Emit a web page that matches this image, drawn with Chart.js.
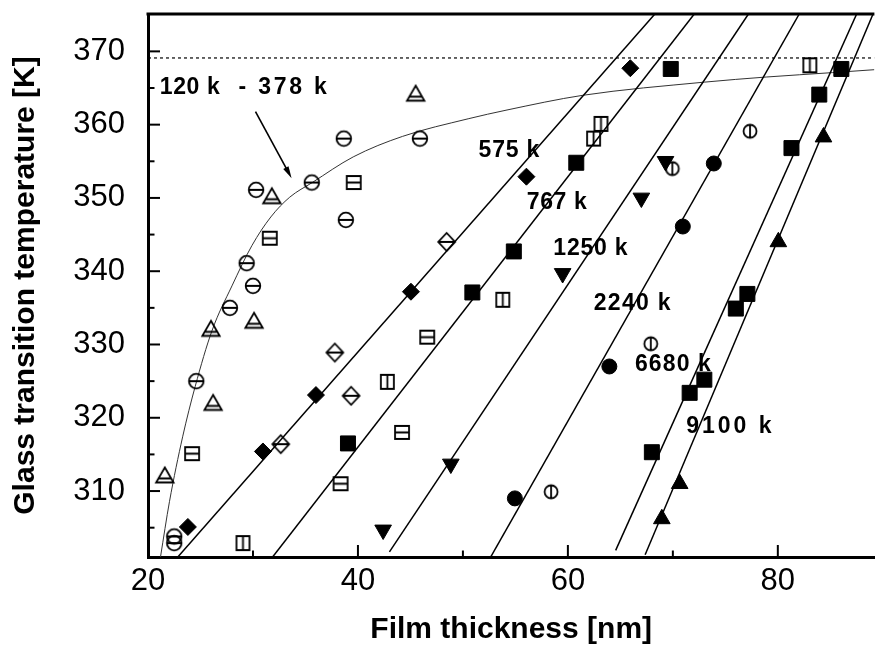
<!DOCTYPE html>
<html>
<head>
<meta charset="utf-8">
<script src="https://cdn.jsdelivr.net/npm/chart.js@4.4.0/dist/chart.umd.min.js"></script>
<style>
  html, body { margin: 0; padding: 0; background: #fff; }
  #wrap { width: 886px; height: 645px; }
</style>
</head>
<body>
<div id="wrap"><canvas id="c" width="886" height="645"></canvas></div>
<script>
// ---------------- data ----------------
// [film thickness nm, Tg K]
const hollowCircleH  = [[22.5,303.8],[22.5,302.9],[24.6,325.0],[27.8,335.0],[30.0,338.0],[29.4,341.1],[30.3,351.1],[35.6,352.1],[38.65,358.1],[38.85,347.0],[45.9,358.1]];
const hollowTriangle = [[21.6,312.2],[26.2,322.1],[26.0,332.2],[30.1,333.3],[31.8,350.3],[45.5,364.3]];
const hollowSquareH  = [[24.2,315.1],[31.6,344.5],[39.6,352.1],[38.35,311.0],[44.2,318.0],[46.6,331.0]];
const hollowSquareV  = [[29.05,302.9],[42.8,324.9],[53.8,336.1],[62.45,358.1],[63.15,360.1],[83.05,368.1]];
const hollowDiamondH = [[32.65,316.4],[37.8,328.9],[39.35,323.0],[48.45,344.0]];
const hollowCircleV  = [[58.4,309.9],[67.9,330.1],[69.95,354.0],[77.35,359.1]];
const filled575k  = [[23.8,305.1],[30.95,315.4],[36.0,323.1],[45.05,337.2],[56.05,352.9],[65.95,367.7]];
const filled767k  = [[39.05,316.5],[50.9,337.1],[54.85,342.7],[60.8,354.8],[69.8,367.6]];
const filled1250k = [[42.4,304.7],[48.85,313.7],[59.5,339.7],[67.0,350.0],[69.3,355.0]];
const filled2240k = [[54.95,309.0],[63.95,327.0],[70.95,346.1],[73.9,354.7]];
const filled6680k = [[68.0,315.3],[71.6,323.4],[73.0,325.2],[76.0,334.9],[77.1,336.9],[81.3,356.8],[83.95,364.1],[86.05,367.6]];
const filled9100k = [[68.95,306.2],[70.65,311.0],[80.05,344.0],[84.35,358.3]];

// straight lines (end points)
const fit575k  = [[22.84,301.0],[68.29,375.1]];
const fit767k  = [[31.87,301.0],[72.04,375.1]];
const fit1250k = [[43.0,301.7],[77.2,375.1]];
const fit2240k = [[52.68,301.1],[82.04,375.1]];
const fit6680k = [[64.55,301.9],[87.51,375.1]];
const fit9100k = [[67.36,301.3],[89.07,375.1]];

// thin curve for 120 k - 378 k
const curve120to378k = [[21.19,301.0],[22.05,308.6],[23.3,317.4],[24.5,324.3],[26.1,331.9],[28.0,338.0],[29.9,343.5],[31.7,347.4],[33.5,350.1],[35.65,352.1],[39.55,355.6],[44.25,358.4],[50.5,360.8],[54.2,362.0],[61.4,364.0],[73.0,365.8],[78.9,366.5],[85.2,367.1],[89.2,367.5]];

// dotted bulk Tg level
const bulkTg = [[20,369.1],[89.2,369.1]];

// ticks
const xTickValues = [20, 40, 60, 80];
const xMinorValues = [30, 50, 70];
const yTickValues = [310, 320, 330, 340, 350, 360, 370];
const yMinorValues = [305, 315, 325, 335, 345, 355, 365];

// series labels
const seriesLabels = ['120 k', '- 378 k', '575 k', '767 k', '1250 k', '2240 k', '6680 k', '9100 k'];

// ---------------- presentation ----------------
const FONT = '"Liberation Sans", Arial, Helvetica, sans-serif';
Chart.defaults.color = '#000';
Chart.defaults.font.family = FONT;

const pts = a => a.map(p => ({x: p[0], y: p[1]}));

function marker(w, h, fn) {
  const c = document.createElement('canvas');
  c.width = w; c.height = h;
  const g = c.getContext('2d');
  g.strokeStyle = '#000'; g.lineWidth = 1.8;
  fn(g, w / 2, h / 2);
  return c;
}
const mCircH = marker(20, 20, (g, cx, cy) => {
  g.beginPath(); g.arc(cx, cy, 7.3, 0, Math.PI * 2);
  g.moveTo(cx - 7.3, cy); g.lineTo(cx + 7.3, cy); g.stroke();
});
const mCircV = marker(18, 18, (g, cx, cy) => {
  g.beginPath(); g.arc(cx, cy, 6.5, 0, Math.PI * 2);
  g.moveTo(cx, cy - 6.5); g.lineTo(cx, cy + 6.5); g.stroke();
});
const mTri = marker(22, 20, (g, cx, cy) => {
  g.beginPath();
  g.moveTo(cx, cy - 7.5); g.lineTo(cx + 8.7, cy + 7.5); g.lineTo(cx - 8.7, cy + 7.5); g.closePath();
  g.moveTo(cx - 6.4, cy + 3.5); g.lineTo(cx + 6.4, cy + 3.5); g.stroke();
});
const mSqH = marker(18, 17, (g, cx, cy) => {
  g.beginPath(); g.rect(cx - 7, cy - 6.5, 14, 13);
  g.moveTo(cx - 7, cy); g.lineTo(cx + 7, cy); g.stroke();
});
const mSqV = marker(17, 18, (g, cx, cy) => {
  g.beginPath(); g.rect(cx - 6.5, cy - 7, 13, 14);
  g.moveTo(cx, cy - 7); g.lineTo(cx, cy + 7); g.stroke();
});
const mDiaH = marker(21, 22, (g, cx, cy) => {
  g.beginPath();
  g.moveTo(cx, cy - 9); g.lineTo(cx + 8.4, cy); g.lineTo(cx, cy + 9); g.lineTo(cx - 8.4, cy); g.closePath();
  g.moveTo(cx - 8.4, cy); g.lineTo(cx + 8.4, cy); g.stroke();
});

function openSet(label, data, img) {
  return {label, data: pts(data), pointStyle: img, pointRadius: 8, showLine: false};
}
function filledSet(label, data, style, r, rot) {
  return {label, data: pts(data), pointStyle: style, pointRadius: r, pointRotation: rot || 0,
          pointBackgroundColor: '#000', pointBorderColor: '#000', pointBorderWidth: 1, showLine: false};
}
function lineSet(label, data, extra) {
  return Object.assign({label, data: pts(data), showLine: true, pointRadius: 0,
          borderColor: '#000', borderWidth: 1.5, fill: false}, extra || {});
}

const annotations = [
  {text: seriesLabels[0], x: 21.12, y: 365.07, sp: 0.6},
  {text: seriesLabels[1], x: 28.62, y: 365.07, sp: 2.8},
  {text: seriesLabels[2], x: 51.49, y: 356.4, sp: 0.8},
  {text: seriesLabels[3], x: 56.08, y: 349.4, sp: 0.6},
  {text: seriesLabels[4], x: 58.61, y: 343.04, sp: 0.8},
  {text: seriesLabels[5], x: 62.46, y: 335.6, sp: 1.3},
  {text: seriesLabels[6], x: 66.39, y: 327.2, sp: 1.1},
  {text: seriesLabels[7], x: 71.27, y: 318.8, sp: 3.0}
];
const arrowFrom = [30.24, 361.77];
const arrowTo = [33.68, 352.69];

const framePlugin = {
  id: 'frame',
  afterDatasetsDraw(chart) {
    const {ctx, chartArea: a, scales: {x, y}} = chart;
    ctx.save();
    ctx.strokeStyle = '#000';
    ctx.fillStyle = '#000';
    const seg = (x1, y1, x2, y2) => { ctx.beginPath(); ctx.moveTo(x1, y1); ctx.lineTo(x2, y2); ctx.stroke(); };
    ctx.lineWidth = 2;
    yTickValues.forEach(v => { const p = y.getPixelForValue(v); seg(a.left, p, a.left + 12, p); });
    yMinorValues.forEach(v => { const p = y.getPixelForValue(v); seg(a.left, p, a.left + 6.5, p); });
    xTickValues.forEach(v => { const p = x.getPixelForValue(v); seg(p, a.bottom, p, a.bottom - 12); });
    xMinorValues.forEach(v => { const p = x.getPixelForValue(v); seg(p, a.bottom, p, a.bottom - 6.5); });
    // top frame line
    ctx.lineWidth = 3;
    seg(a.left - 1.5, a.top, a.right, a.top);
    // labels
    ctx.font = 'bold 23px ' + FONT;
    ctx.textBaseline = 'middle';
    ctx.textAlign = 'left';
    annotations.forEach(t => {
      ctx.letterSpacing = t.sp + 'px';
      ctx.fillText(t.text, x.getPixelForValue(t.x), y.getPixelForValue(t.y));
    });
    ctx.letterSpacing = '0px';
    // arrow
    const x1 = x.getPixelForValue(arrowFrom[0]), y1 = y.getPixelForValue(arrowFrom[1]);
    const x2 = x.getPixelForValue(arrowTo[0]), y2 = y.getPixelForValue(arrowTo[1]);
    const ang = Math.atan2(y2 - y1, x2 - x1);
    ctx.lineWidth = 1.6;
    seg(x1, y1, x2 - 8 * Math.cos(ang), y2 - 8 * Math.sin(ang));
    ctx.beginPath();
    ctx.moveTo(x2, y2);
    ctx.lineTo(x2 - 12 * Math.cos(ang) + 3 * Math.sin(ang), y2 - 12 * Math.sin(ang) - 3 * Math.cos(ang));
    ctx.lineTo(x2 - 12 * Math.cos(ang) - 3 * Math.sin(ang), y2 - 12 * Math.sin(ang) + 3 * Math.cos(ang));
    ctx.closePath();
    ctx.fill();
    ctx.restore();
  }
};

new Chart(document.getElementById('c'), {
  type: 'scatter',
  data: {
    datasets: [
      openSet('120k-378k circles', hollowCircleH, mCircH),
      openSet('120k-378k triangles', hollowTriangle, mTri),
      openSet('120k-378k squares', hollowSquareH, mSqH),
      openSet('open squares', hollowSquareV, mSqV),
      openSet('open diamonds', hollowDiamondH, mDiaH),
      openSet('open circles', hollowCircleV, mCircV),
      filledSet('575 k', filled575k, 'rectRot', 8.5),
      filledSet('767 k', filled767k, 'rect', 10.6),
      filledSet('1250 k', filled1250k, 'triangle', 9.6, 180),
      filledSet('2240 k', filled2240k, 'circle', 7.5),
      filledSet('6680 k', filled6680k, 'rect', 10.6),
      filledSet('9100 k', filled9100k, 'triangle', 9.6),
      lineSet('fit 575 k', fit575k),
      lineSet('fit 767 k', fit767k),
      lineSet('fit 1250 k', fit1250k),
      lineSet('fit 2240 k', fit2240k),
      lineSet('fit 6680 k', fit6680k),
      lineSet('fit 9100 k', fit9100k),
      lineSet('120 k - 378 k', curve120to378k, {borderWidth: 1, borderColor: '#333', cubicInterpolationMode: 'monotone'}),
      lineSet('bulk Tg', bulkTg, {borderWidth: 1.2, borderColor: '#000', borderDash: [3, 3]})
    ]
  },
  options: {
    responsive: false,
    animation: false,
    devicePixelRatio: 1,
    layout: {padding: {top: 14, left: 0, right: 0, bottom: 0}},
    plugins: {legend: {display: false}, tooltip: {enabled: false}},
    scales: {
      x: {
        type: 'linear', position: 'bottom', min: 20, max: 89.2,
        afterBuildTicks: s => { s.ticks = xTickValues.map(v => ({value: v})); },
        afterFit: s => { s.height = 88; s.paddingLeft = 0; s.paddingRight = 0; },
        ticks: {font: {size: 31, family: FONT}, color: '#000', padding: 6, maxRotation: 0, autoSkip: false,
                callback: v => String(v)},
        grid: {display: false, drawTicks: false},
        border: {display: true, width: 3, color: '#000'},
        title: {display: true, text: 'Film thickness [nm]', color: '#000',
                font: {size: 30, weight: 'bold', family: FONT, lineHeight: 1}, padding: {top: 0, bottom: 0}}
      },
      y: {
        type: 'linear', position: 'left', min: 301, max: 375.1,
        afterBuildTicks: s => { s.ticks = yTickValues.map(v => ({value: v})); },
        afterFit: s => { s.width = 148; s.paddingTop = 0; s.paddingBottom = 0; },
        ticks: {font: {size: 31, family: FONT, lineHeight: 0.8}, color: '#000', padding: 0, autoSkip: false,
                callback: v => String(v)},
        grid: {display: false, drawTicks: true, tickLength: 23},
        border: {display: true, width: 3, color: '#000'},
        title: {display: true, text: 'Glass transition temperature [K]', color: '#000',
                font: {size: 30, weight: 'bold', family: FONT, lineHeight: 1}, padding: {top: 11, bottom: 0}}
      }
    }
  },
  plugins: [framePlugin]
});
</script>
</body>
</html>
